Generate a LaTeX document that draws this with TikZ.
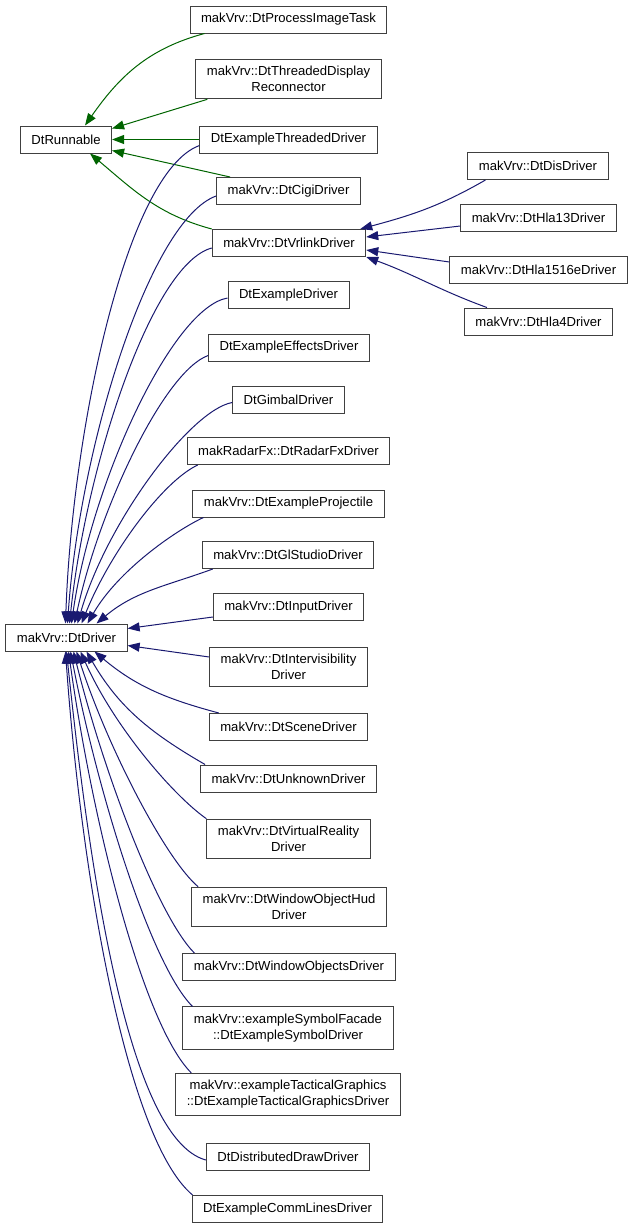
\documentclass[tikz,border=0pt]{standalone}
\usepackage{fontspec}
\setmainfont{Liberation Sans}
\usetikzlibrary{arrows.meta}
\definecolor{edgeblue}{RGB}{25,25,112}
\definecolor{edgegreen}{RGB}{0,100,0}
\tikzset{
  cls/.style={draw=black!75, line width=1pt, fill=white, inner xsep=11pt, inner ysep=7pt,
    minimum height=27pt, align=center, font=\fontsize{13.1}{16}\selectfont},
  pub/.style={draw=edgeblue, line width=1pt, -{Triangle[length=12pt,width=9pt]}},
  prot/.style={draw=edgegreen, line width=1pt, -{Triangle[length=12pt,width=9pt]}},
}
\begin{document}
\begin{tikzpicture}[x=1pt, y=-1pt]
	\useasboundingbox (0,0) rectangle (633,1227);

	\node[cls] (runnable) at (66,139.5) {DtRunnable};
	\node[cls] (driver) at (66.5,637.5) {makVrv::DtDriver};

	\node[cls] (procimg) at (288.5,19.5) {makVrv::DtProcessImageTask};
	\node[cls] (thrdisp) at (288.5,79) {makVrv::DtThreadedDisplay\\Reconnector};
	\node[cls] (exthr) at (288.5,139.5) {DtExampleThreadedDriver};
	\node[cls] (cigi) at (288.5,191) {makVrv::DtCigiDriver};
	\node[cls] (vrlink) at (289,243) {makVrv::DtVrlinkDriver};
	\node[cls] (exdrv) at (288.5,295) {DtExampleDriver};
	\node[cls] (effects) at (289,347.5) {DtExampleEffectsDriver};
	\node[cls] (gimbal) at (288.5,399.5) {DtGimbalDriver};
	\node[cls] (radar) at (288.5,451) {makRadarFx::DtRadarFxDriver};
	\node[cls] (proj) at (288.5,503.5) {makVrv::DtExampleProjectile};
	\node[cls] (glstudio) at (288,555) {makVrv::DtGlStudioDriver};
	\node[cls] (input) at (288.5,607) {makVrv::DtInputDriver};
	\node[cls] (intervis) at (288.5,667) {makVrv::DtIntervisibility\\Driver};
	\node[cls] (scene) at (288.5,727) {makVrv::DtSceneDriver};
	\node[cls] (unknown) at (288.5,778.5) {makVrv::DtUnknownDriver};
	\node[cls] (vr) at (288.5,839) {makVrv::DtVirtualReality\\Driver};
	\node[cls] (hud) at (289,907) {makVrv::DtWindowObjectHud\\Driver};
	\node[cls] (wobj) at (289,967) {makVrv::DtWindowObjectsDriver};
	\node[cls] (symbol) at (288,1028) {makVrv::exampleSymbolFacade\\::DtExampleSymbolDriver};
	\node[cls] (tactical) at (288,1094.5) {makVrv::exampleTacticalGraphics\\::DtExampleTacticalGraphicsDriver};
	\node[cls] (distdraw) at (288,1157) {DtDistributedDrawDriver};
	\node[cls] (comm) at (287.5,1209) {DtExampleCommLinesDriver};

	\node[cls] (dis) at (538,166) {makVrv::DtDisDriver};
	\node[cls] (hla13) at (538.5,218) {makVrv::DtHla13Driver};
	\node[cls] (hla1516e) at (538.5,270) {makVrv::DtHla1516eDriver};
	\node[cls] (hla4) at (538.5,321.5) {makVrv::DtHla4Driver};

	\draw[prot] ([xshift=15pt]procimg.south west) to[out=195,in=55] ([xshift=19pt]runnable.north);
	\draw[prot] ([xshift=12pt]thrdisp.south west) -- ([yshift=11pt]runnable.east);
	\draw[prot] (exthr.west) -- (runnable.east);
	\draw[prot] ([xshift=14pt]cigi.north west) -- ([yshift=-11pt]runnable.east);
	\draw[prot] (vrlink.north west) to[out=165,in=-40] ([xshift=24pt]runnable.south);

	\draw[pub] ([xshift=18pt]dis.south west) to[out=210,in=15] ([xshift=-6pt]vrlink.north east);
	\draw[pub] ([yshift=-8pt]hla13.west) -- ([yshift=6pt]vrlink.east);
	\draw[pub] ([yshift=8pt]hla1516e.west) -- ([yshift=-7pt]vrlink.east);
	\draw[pub] ([xshift=23pt]hla4.north west) to[out=160,in=-20] (vrlink.south east);

	\draw[pub] ([yshift=-6pt]exthr.west) to[out=200,in=88,out looseness=0.4] ([xshift=-1pt]driver.north);
	\draw[pub] ([yshift=-5pt]cigi.west) to[out=200,in=86,out looseness=0.4] ([xshift=1pt]driver.north);
	\draw[pub] ([yshift=-5pt]vrlink.west) to[out=195,in=84,out looseness=0.4] ([xshift=3pt]driver.north);
	\draw[pub] ([yshift=-3pt]exdrv.west) to[out=190,in=82,out looseness=0.4] ([xshift=5pt]driver.north);
	\draw[pub] ([yshift=-8pt]effects.west) to[out=200,in=78,out looseness=0.4] ([xshift=8pt]driver.north);
	\draw[pub] ([yshift=-3pt]gimbal.west) to[out=190,in=74,out looseness=0.4] ([xshift=11pt]driver.north);
	\draw[pub] ([xshift=11pt]radar.south west) to[out=205,in=68,out looseness=0.5] ([xshift=15pt]driver.north);
	\draw[pub] ([xshift=11pt]proj.south west) to[out=205,in=60,out looseness=0.5] ([xshift=21pt]driver.north);
	\draw[pub] ([xshift=11pt]glstudio.south west) to[out=200,in=40] ([xshift=30pt]driver.north);
	\draw[pub] ([yshift=-10pt]input.west) -- ([yshift=9pt]driver.east);
	\draw[pub] ([yshift=10pt]intervis.west) -- ([yshift=-8pt]driver.east);
	\draw[pub] ([xshift=10pt]scene.north west) to[out=165,in=-40] ([xshift=28pt]driver.south);
	\draw[pub] ([xshift=5pt]unknown.north west) to[out=150,in=-60] ([xshift=20pt]driver.south);
	\draw[pub] (vr.north west) to[out=145,in=-66,out looseness=0.5] ([xshift=14pt]driver.south);
	\draw[pub] ([xshift=7pt]hud.north west) to[out=140,in=-72,out looseness=0.4] ([xshift=10pt]driver.south);
	\draw[pub] ([xshift=12pt]wobj.north west) to[out=135,in=-76,out looseness=0.4] ([xshift=7pt]driver.south);
	\draw[pub] ([xshift=10pt]symbol.north west) to[out=135,in=-79,out looseness=0.4] ([xshift=4pt]driver.south);
	\draw[pub] ([xshift=16pt]tactical.north west) to[out=135,in=-82,out looseness=0.4] ([xshift=2pt]driver.south);
	\draw[pub] ([yshift=-3pt]distdraw.west) to[out=165,in=-84,out looseness=0.4] (driver.south);
	\draw[pub] ([xshift=1pt]comm.north west) to[out=140,in=-86,out looseness=0.4] ([xshift=-1pt]driver.south);
\end{tikzpicture}
\end{document}
